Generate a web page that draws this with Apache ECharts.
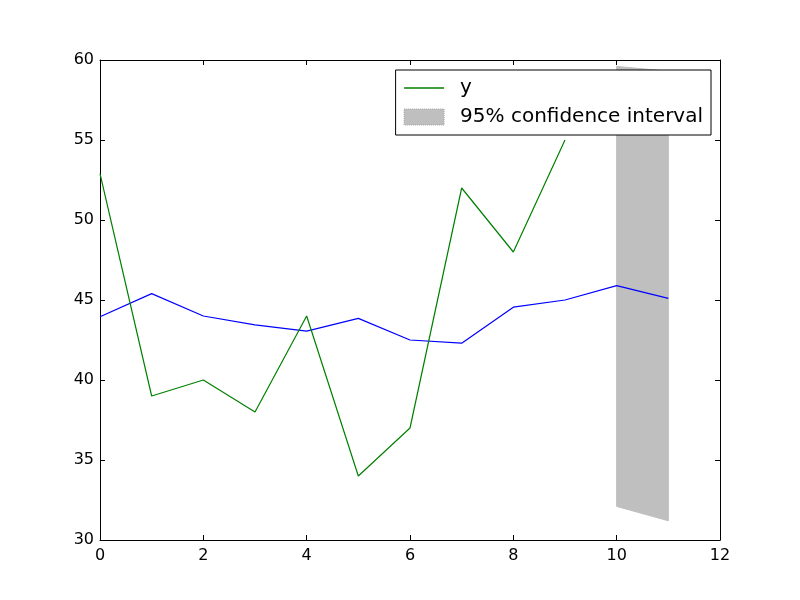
<!DOCTYPE html>
<html>
<head>
<meta charset="utf-8">
<script src="https://cdn.jsdelivr.net/npm/echarts@6/dist/echarts.min.js"></script>
<style>
  html, body { margin: 0; padding: 0; background: #fff; }
  #main { width: 800px; height: 600px; }
</style>
</head>
<body>
<div id="main"></div>
<script>
// observed series (green)
const obsX = [0, 1, 2, 3, 4, 5, 6, 7, 8, 9];
const obsY = [52.9, 39, 40, 38, 44, 34, 37, 52, 48, 55];
// fitted / forecast (blue)
const fcX = [0, 1, 2, 3, 4, 5, 6, 7, 8, 9, 10, 11];
const fcY = [43.95, 45.4, 44.0, 43.45, 43.05, 43.85, 42.5, 42.3, 44.55, 45.0, 45.9, 45.1];
// 95% confidence interval
const ciX = [10, 11];
const ciLower = [32.1, 31.2];
const ciUpper = [59.6, 59.3];
// ticks
const xTicks = { min: 0, max: 12, interval: 2 };
const yTicks = { min: 30, max: 60, interval: 5 };

const font = 'DejaVu Sans';
const chart = echarts.init(document.getElementById('main'));

// x axis: bottom with labels, top just ticks
function xAxisDef(pos, labels) {
  return {
    type: 'value', position: pos, min: xTicks.min, max: xTicks.max, interval: xTicks.interval,
    axisLine: { show: true, onZero: false, lineStyle: { color: '#000', width: 1 } },
    axisTick: { show: true, inside: true, length: 5, lineStyle: { color: '#000' } },
    axisLabel: { show: labels, color: '#000', fontFamily: font, fontSize: 16, margin: 8 },
    splitLine: { show: false }
  };
}
function yAxisDef(pos, labels) {
  return {
    type: 'value', position: pos, min: yTicks.min, max: yTicks.max, interval: yTicks.interval,
    axisLine: { show: true, onZero: false, lineStyle: { color: '#000', width: 1 } },
    axisTick: { show: true, inside: true, length: 5, lineStyle: { color: '#000' } },
    axisLabel: { show: labels, color: '#000', fontFamily: font, fontSize: 16, margin: 6 },
    splitLine: { show: false }
  };
}

const option = {
  animation: false,
  backgroundColor: '#fff',
  grid: { left: 100, right: 80, top: 60, bottom: 60 },
  xAxis: [xAxisDef('bottom', true), xAxisDef('top', false)],
  yAxis: [yAxisDef('left', true), yAxisDef('right', false)],
  legend: {
    orient: 'vertical',
    right: 89,
    top: 70,
    padding: [8, 8, 8, 8],
    itemGap: 9,
    itemWidth: 40,
    itemHeight: 16,
    backgroundColor: '#fff',
    borderColor: '#000',
    borderWidth: 1,
    borderRadius: 0,
    textStyle: { color: '#000', fontFamily: font, fontSize: 20, padding: [0, 0, 0, 11] },
    data: [
      { name: 'y', icon: 'path://M0,0 L40,0 L40,1.3 L0,1.3 Z', itemStyle: { color: '#008000' } },
      { name: '95% confidence interval', icon: 'rect', itemStyle: { color: '#bfbfbf', borderColor: '#a8a8a8', borderWidth: 1, borderType: 'dotted' } }
    ]
  },
  series: [
    {
      name: '95% confidence interval',
      type: 'custom',
      z: 1,
      itemStyle: { color: '#bfbfbf' },
      data: [[ciX[0], ciLower[0]]],
      renderItem: function (params, api) {
        const pts = [];
        for (let i = 0; i < ciX.length; i++) pts.push(api.coord([ciX[i], ciUpper[i]]));
        for (let i = ciX.length - 1; i >= 0; i--) pts.push(api.coord([ciX[i], ciLower[i]]));
        return {
          type: 'polygon',
          shape: { points: pts },
          style: { fill: '#bfbfbf', stroke: '#bfbfbf', lineWidth: 1 }
        };
      }
    },
    {
      name: 'forecast',
      type: 'line',
      z: 3,
      showSymbol: false,
      data: fcX.map((x, i) => [x, fcY[i]]),
      lineStyle: { color: '#0000ff', width: 1.2 },
      itemStyle: { color: '#0000ff' }
    },
    {
      name: 'y',
      type: 'line',
      z: 4,
      showSymbol: false,
      symbol: 'none',
      data: obsX.map((x, i) => [x, obsY[i]]),
      lineStyle: { color: '#008000', width: 1.2 },
      itemStyle: { color: '#008000' }
    }
  ]
};
chart.setOption(option);
</script>
</body>
</html>
